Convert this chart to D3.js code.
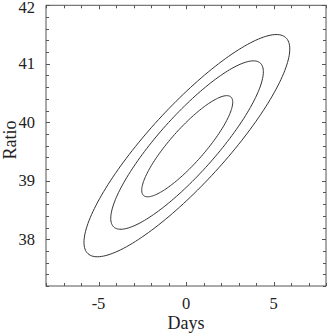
<!DOCTYPE html>
<html>
<head>
<meta charset="utf-8">
<script src="https://cdn.jsdelivr.net/npm/d3@7"></script>
<style>
  html, body { margin: 0; padding: 0; background: #fff; }
  svg { display: block; }
  text { font-family: "Liberation Serif", "Times New Roman", serif; fill: #222; }
</style>
</head>
<body>
<svg id="chart" width="327" height="335"></svg>
<script>
// ---- data ----
const contourLevels   = ["inner", "middle", "outer"];
const centerDays      = [0.07, 0.06, 0.05];
const centerRatio     = [39.59, 39.61, 39.60];
const halfWidthDays   = [2.60, 4.36, 5.88];
const halfHeightRatio = [0.865, 1.44, 1.90];
const correlation     = [0.87, 0.87, 0.87];

const xTickValues = [-5, 0, 5];
const yTickValues = [38, 39, 40, 41, 42];
const xDomain = [-8, 8];
const yDomain = [37.2, 42];

// ---- layout ----
const svg = d3.select("#chart");
const pLeft = 46, pRight = 326, pTop = 5.3, pBottom = 286;
const x = d3.scaleLinear().domain(xDomain).range([pLeft, pRight]);
const y = d3.scaleLinear().domain(yDomain).range([pBottom, pTop]);

const axisColor = "#555";
const lineColor = "#333";

// contours
const tSteps = d3.range(0, 360, 2).map(d => d * Math.PI / 180);
const line = d3.line().x(d => x(d[0])).y(d => y(d[1])).curve(d3.curveLinearClosed);
contourLevels.forEach((lvl, i) => {
  const delta = Math.acos(correlation[i]);
  const pts = tSteps.map(t => [
    centerDays[i] + halfWidthDays[i] * Math.cos(t),
    centerRatio[i] + halfHeightRatio[i] * Math.cos(t - delta)
  ]);
  svg.append("path").attr("d", line(pts))
    .attr("fill", "none").attr("stroke", lineColor).attr("stroke-width", 1);
});

// frame
svg.append("rect").attr("x", pLeft).attr("y", pTop)
  .attr("width", pRight - pLeft).attr("height", pBottom - pTop)
  .attr("fill", "none").attr("stroke", axisColor).attr("stroke-width", 1);

// ticks (inward, all four sides)
const xMinor = d3.range(-8, 8.001, 1);
const yMinor = d3.range(0, 25).map(i => 37.2 + i * 0.2).filter(v => v <= 42.001);
const g = svg.append("g").attr("stroke", axisColor).attr("stroke-width", 1);
xMinor.forEach(v => {
  const isMajor = xTickValues.some(t => Math.abs(t - v) < 1e-6);
  const len = isMajor ? 4 : 3;
  const px = Math.round(x(v)) + 0.5;
  g.append("line").attr("x1", px).attr("x2", px).attr("y1", pBottom).attr("y2", pBottom - len);
  g.append("line").attr("x1", px).attr("x2", px).attr("y1", pTop).attr("y2", pTop + len);
});
yMinor.forEach(v => {
  const isMajor = yTickValues.some(t => Math.abs(t - v) < 1e-6);
  const len = isMajor ? 4 : 3;
  const py = Math.round(y(v)) + 0.5;
  g.append("line").attr("x1", pLeft).attr("x2", pLeft + len).attr("y1", py).attr("y2", py);
  g.append("line").attr("x1", pRight).attr("x2", pRight - len).attr("y1", py).attr("y2", py);
});

// tick labels
svg.append("g").selectAll("text").data(xTickValues).join("text")
  .attr("x", d => x(d)).attr("y", 309)
  .attr("text-anchor", "middle").attr("font-size", 16.5)
  .text(d => d < 0 ? "-" + Math.abs(d) : d);
svg.append("g").selectAll("text").data(yTickValues).join("text")
  .attr("x", 35).attr("y", d => Math.max(y(d) + 5.5, 12.5))
  .attr("text-anchor", "end").attr("font-size", 16.5)
  .text(d => d);

// axis titles
svg.append("text").attr("x", x(0)).attr("y", 329)
  .attr("text-anchor", "middle").attr("font-size", 18).text("Days");
svg.append("text").attr("transform", "translate(15.5,140) rotate(-90)")
  .attr("text-anchor", "middle").attr("font-size", 18).text("Ratio");
</script>
</body>
</html>
